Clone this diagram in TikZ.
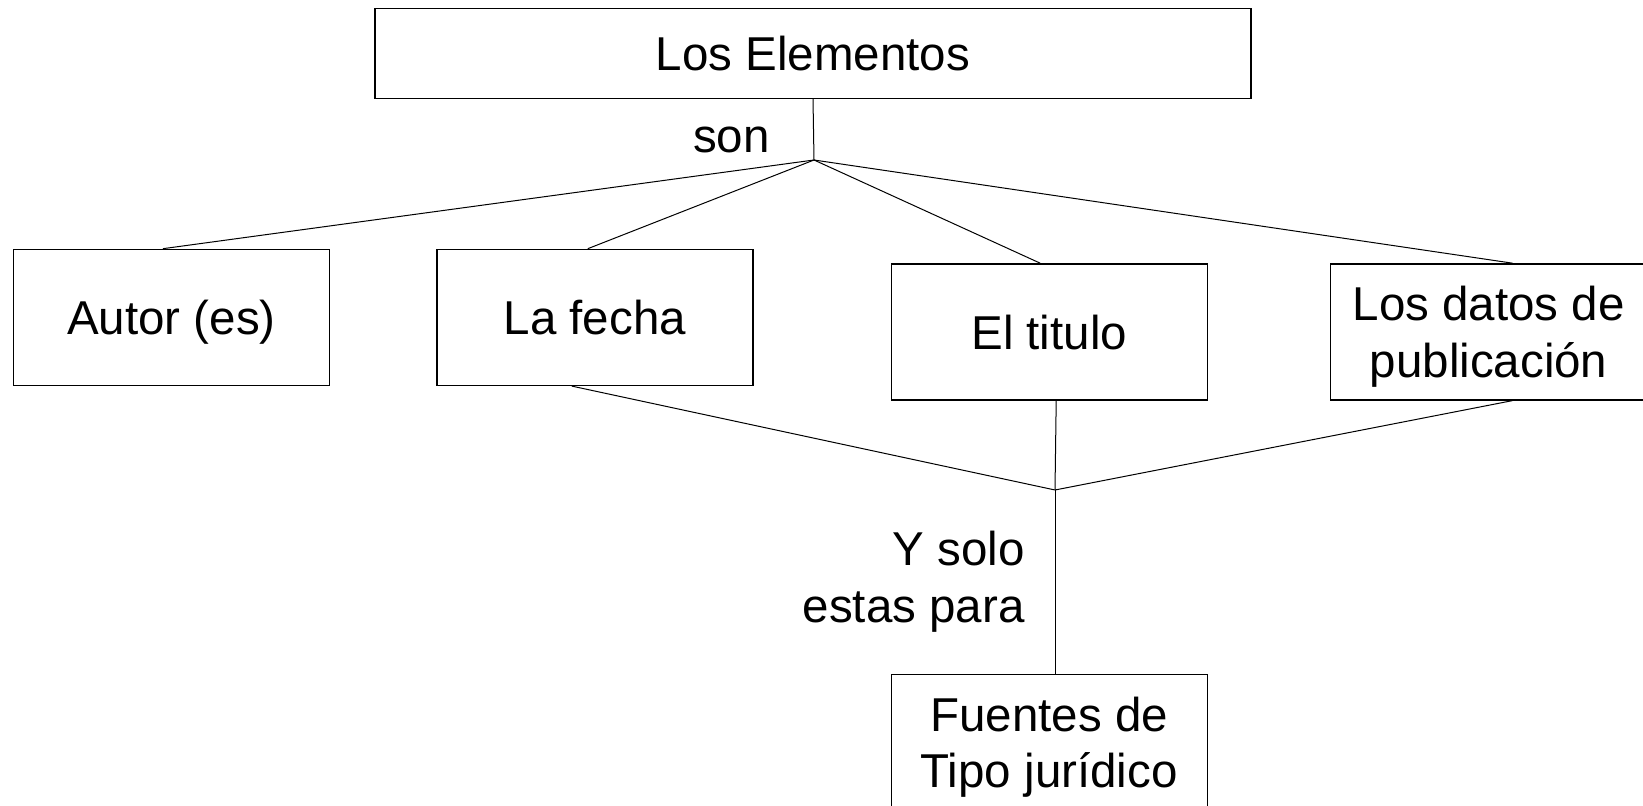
\documentclass[tikz,border=0pt]{standalone}
\usepackage{fontspec}
\setmainfont{Liberation Sans}
\usepackage{tikz}
\usetikzlibrary{positioning}

\begin{document}
\begin{tikzpicture}[x=1pt, y=1pt,
    box/.style={rectangle, draw, line width=0.7pt, inner sep=0pt,
      minimum width=158pt, minimum height=68pt, align=center, text depth=0pt,
      font=\fontsize{23.75}{28.3}\selectfont},
    lbl/.style={inner sep=0pt, font=\fontsize{23.75}{28.3}\selectfont},
    link/.style={line width=0.5pt}]
    \useasboundingbox (0,0) rectangle (821.5,-403);
    \node[box, minimum width=438pt, minimum height=45pt] (elementos) at (406.5,-26.75) {Los Elementos};
    \node[box] (autor) at (85.7,-158.7) {Autor (es)};
    \node[box] (fecha) [right=53pt of autor] {La fecha};
    \node[box] (titulo) [right=68.5pt of fecha, yshift=-7.25pt] {El titulo};
    \node[box] (datos) [right=61pt of titulo] {Los datos de\\publicación};
    \node[box] (fuentes) [below=136.5pt of titulo] {Fuentes de\\Tipo jurídico};
    \coordinate (son) at (407,-80);
    \coordinate (solo) at (527.5,-245);
    \node[lbl, anchor=base east] (sonlbl) at (385,-76.5) {son};
    \node[lbl, anchor=east, align=right] (sololbl) at (512.5,-290.75) {Y solo\\estas para};
    \draw[link] (elementos.south) -- (son);
    \draw[link] (son) -- ([xshift=-4.25pt]autor.north);
    \draw[link] (son) -- ([xshift=-3.5pt]fecha.north);
    \draw[link] (son) -- ([xshift=-4.5pt]titulo.north);
    \draw[link] (son) -- ([xshift=12pt]datos.north);
    \draw[link] ([xshift=-11.5pt]fecha.south) -- (solo);
    \draw[link] ([xshift=3.5pt]titulo.south) -- (solo);
    \draw[link] ([xshift=12pt]datos.south) -- (solo);
    \draw[link] (solo) -- (solo |- fuentes.north);
  \end{tikzpicture}
\end{document}
